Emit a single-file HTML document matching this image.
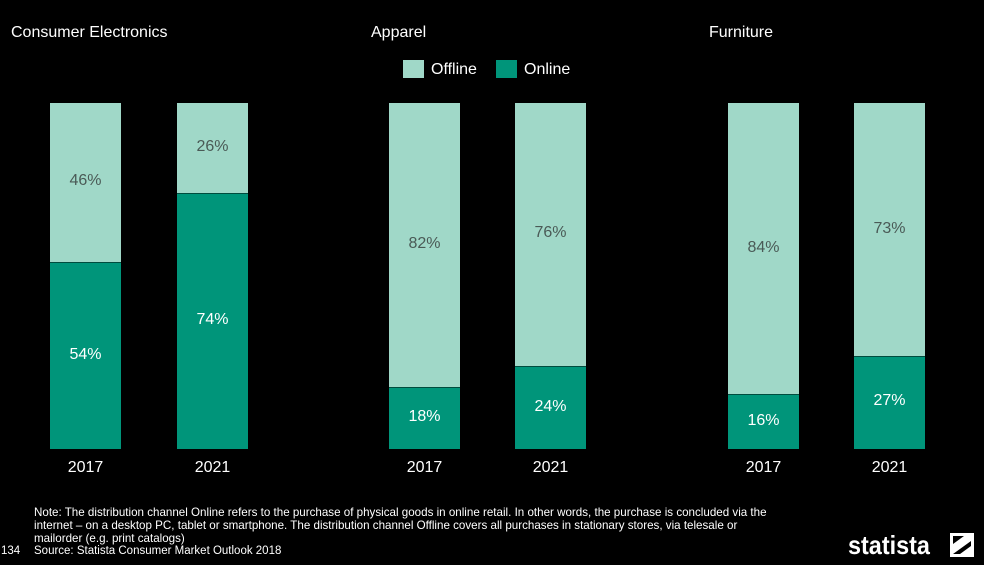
<!DOCTYPE html>
<html><head><style>
body{margin:0;width:984px;height:565px;background:#000;position:relative;overflow:hidden;font-family:"Liberation Sans",sans-serif}
.t{position:absolute;color:#fff;font-size:16px;white-space:nowrap}
.b{position:absolute;width:71px;top:103px;height:346px;background:#a0d8c8}
.o{position:absolute;left:0;right:0;bottom:0;background:#00957a;border-top:1px solid #004c3e}
.l{position:absolute;width:71px;text-align:center;font-size:16px}
.y{position:absolute;width:71px;text-align:center;color:#fff;font-size:16px;top:459px}
.n{position:absolute;color:#fff;font-size:11.6px;line-height:13px;left:34px;top:506px;white-space:nowrap}
</style></head><body>
<div class="t" style="left:11px;top:24px">Consumer Electronics</div>
<div class="t" style="left:371px;top:24px">Apparel</div>
<div class="t" style="left:709px;top:24px">Furniture</div>
<div style="position:absolute;left:403px;top:60px;width:21px;height:18px;background:#a0d8c8"></div>
<div class="t" style="left:431px;top:61px">Offline</div>
<div style="position:absolute;left:496px;top:60px;width:21px;height:18px;background:#00957a"></div>
<div class="t" style="left:524px;top:61px">Online</div>

<div class="b" style="left:50px"><div class="o" style="height:186px"></div></div>
<div class="b" style="left:177px"><div class="o" style="height:255px"></div></div>
<div class="b" style="left:389px"><div class="o" style="height:61px"></div></div>
<div class="b" style="left:515px"><div class="o" style="height:82px"></div></div>
<div class="b" style="left:728px"><div class="o" style="height:54px"></div></div>
<div class="b" style="left:854px"><div class="o" style="height:92px"></div></div>

<div class="l" style="left:50px;top:172px;color:#4a5a56">46%</div>
<div class="l" style="left:50px;top:346px;color:#fff">54%</div>
<div class="l" style="left:177px;top:138px;color:#4a5a56">26%</div>
<div class="l" style="left:177px;top:311px;color:#fff">74%</div>
<div class="l" style="left:389px;top:235px;color:#4a5a56">82%</div>
<div class="l" style="left:389px;top:408px;color:#fff">18%</div>
<div class="l" style="left:515px;top:224px;color:#4a5a56">76%</div>
<div class="l" style="left:515px;top:398px;color:#fff">24%</div>
<div class="l" style="left:728px;top:239px;color:#4a5a56">84%</div>
<div class="l" style="left:728px;top:412px;color:#fff">16%</div>
<div class="l" style="left:854px;top:220px;color:#4a5a56">73%</div>
<div class="l" style="left:854px;top:392px;color:#fff">27%</div>

<div class="y" style="left:50px">2017</div>
<div class="y" style="left:177px">2021</div>
<div class="y" style="left:389px">2017</div>
<div class="y" style="left:515px">2021</div>
<div class="y" style="left:728px">2017</div>
<div class="y" style="left:854px">2021</div>

<div class="n">Note: The distribution channel Online refers to the purchase of physical goods in online retail. In other words, the purchase is concluded via the<br>internet – on a desktop PC, tablet or smartphone. The distribution channel Offline covers all purchases in stationary stores, via telesale or<br>mailorder (e.g. print catalogs)</div>
<div class="t" style="left:1px;top:545px;font-size:11.5px">134</div>
<div class="t" style="left:34px;top:545px;font-size:11.5px">Source: Statista Consumer Market Outlook 2018</div>
<div class="t" style="left:848px;top:530px;font-size:26px;font-weight:bold;transform:scaleX(0.9);transform-origin:left">statista</div>
<svg style="position:absolute;left:950px;top:533px" width="24" height="24"><rect width="24" height="24" fill="#fff"/><path d="M3 21 L21 8 L21 13 L10 21Z M3 3 L14 3 L3 11Z" fill="#000"/></svg>
</body></html>
